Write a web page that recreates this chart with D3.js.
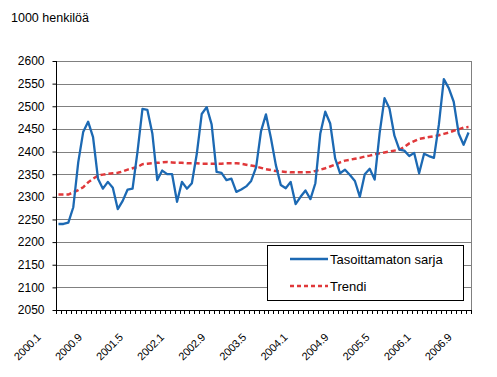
<!DOCTYPE html>
<html>
<head>
<meta charset="utf-8">
<title>Työlliset</title>
<script src="https://d3js.org/d3.v7.min.js"></script>
<style>
    body { margin: 0; background: #fff; }
    svg text { font-family: "Liberation Sans", Arial, sans-serif; fill: #000; }
</style>
</head>
<body>
<div id="chart"></div>
<script>
    // kuukaudet 2000.1 - 2006.12
    var years = [2000, 2001, 2002, 2003, 2004, 2005, 2006];
    var tickLabels = ["2000.1", "2000.9", "2001.5", "2002.1", "2002.9", "2003.5",
                      "2004.1", "2004.9", "2005.5", "2006.1", "2006.9"];
    var yTicks = [2050, 2100, 2150, 2200, 2250, 2300, 2350, 2400, 2450, 2500, 2550, 2600];

    // Tasoittamaton sarja (1000 henkilöä)
    var sarja = [
        2240, 2240, 2243, 2277, 2376, 2443, 2466, 2432, 2340, 2318, 2333, 2320,
        2273, 2291, 2316, 2318, 2400, 2494, 2492, 2440, 2337, 2358, 2350, 2350,
        2289, 2333, 2318, 2330, 2395, 2483, 2498, 2460, 2355, 2353, 2337, 2340,
        2311, 2316, 2323, 2335, 2365, 2445, 2482, 2430, 2370, 2326, 2319, 2333,
        2284, 2300, 2314, 2295, 2330, 2440, 2488, 2462, 2385, 2352, 2360, 2348,
        2335, 2300, 2350, 2362, 2338, 2440, 2518, 2495, 2435, 2404, 2402, 2390,
        2397, 2352, 2395, 2390, 2386, 2460, 2560, 2540, 2510, 2440, 2415, 2442
    ];

    // Trendi
    var trendi = [
        2305, 2305, 2305, 2310, 2315, 2321, 2332, 2340, 2347, 2349, 2351, 2352,
        2353, 2356, 2360, 2363, 2366, 2372, 2373, 2374, 2375, 2376, 2377, 2376,
        2375, 2375, 2374, 2374, 2374, 2373, 2373, 2373, 2373, 2373, 2374, 2374,
        2374, 2373, 2371, 2369, 2367, 2364, 2361, 2359, 2357, 2356, 2355, 2354,
        2354, 2354, 2354, 2355, 2357, 2360, 2363, 2367, 2371, 2376, 2380, 2382,
        2384, 2386, 2389, 2391, 2394, 2396, 2398, 2400, 2402, 2404, 2410, 2418,
        2423, 2428, 2430, 2432, 2434, 2436, 2439, 2442, 2446, 2449, 2453, 2454
    ];

    var months = [];
    years.forEach(function (yr) {
        for (var m = 1; m <= 12; m++) months.push(yr + "." + m);
    });

    var width = 497, height = 377;
    var plotLeft = 56, plotRight = 471, plotTop = 61, plotBottom = 310;

    var svg = d3.select("#chart").append("svg")
        .attr("width", width)
        .attr("height", height);

    var x = d3.scaleBand().domain(months).range([plotLeft, plotRight]);
    var y = d3.scaleLinear().domain([2050, 2600]).range([plotBottom, plotTop]);
    var cx = function (i) { return x(months[i]) + x.bandwidth() / 2; };

    // otsikko
    svg.append("text")
        .attr("x", 11)
        .attr("y", 22)
        .style("font-size", "12.5px")
        .text("1000 henkilöä");

    // vaakaviivat
    svg.append("g")
        .selectAll("line")
        .data(yTicks.slice(1))
        .enter().append("line")
        .attr("x1", plotLeft).attr("x2", plotRight)
        .attr("y1", function (d) { return Math.round(y(d)) + 0.5; })
        .attr("y2", function (d) { return Math.round(y(d)) + 0.5; })
        .attr("stroke", "#808080")
        .attr("stroke-width", 1);

    // oikea reuna
    svg.append("line")
        .attr("x1", plotRight + 0.5).attr("x2", plotRight + 0.5)
        .attr("y1", Math.round(y(2600))).attr("y2", plotBottom)
        .attr("stroke", "#808080");

    // y-akseli
    var yAxis = d3.axisLeft(y)
        .tickValues(yTicks)
        .tickSize(4)
        .tickPadding(8)
        .tickFormat(d3.format("d"));

    var gy = svg.append("g")
        .attr("transform", "translate(" + (plotLeft + 0.5) + ",0)")
        .call(yAxis);
    gy.select(".domain").attr("stroke", "#000").attr("d", "M0," + plotTop + "V" + (plotBottom + 0.5));
    gy.selectAll(".tick line").attr("stroke", "#000");
    gy.selectAll(".tick text")
        .style("font-size", "12px")
        .style("font-family", "\"Liberation Sans\", Arial, sans-serif");

    // x-akseli
    svg.append("line")
        .attr("x1", plotLeft).attr("x2", plotRight + 1)
        .attr("y1", plotBottom + 0.5).attr("y2", plotBottom + 0.5)
        .attr("stroke", "#000");

    var edges = months.map(function (m) { return x(m); }).concat([plotRight]);
    svg.append("g")
        .selectAll("line")
        .data(edges)
        .enter().append("line")
        .attr("x1", function (d) { return Math.round(d) + 0.5; })
        .attr("x2", function (d) { return Math.round(d) + 0.5; })
        .attr("y1", plotBottom).attr("y2", plotBottom + 4)
        .attr("stroke", "#000");

    // kallistetut luokkaotsikot hieman levitettyinä, kuten alkuperäisessä
    var labelX = function (i) { return cx(0) - 17 + (cx(i) - cx(0)) * 1.04; };
    svg.append("g")
        .selectAll("text")
        .data(tickLabels)
        .enter().append("text")
        .attr("text-anchor", "end")
        .style("font-size", "11px")
        .style("letter-spacing", "-0.2px")
        .attr("transform", function (d) {
            var i = months.indexOf(d);
            return "translate(" + labelX(i) + "," + (plotBottom + 28) + ") rotate(-45)";
        })
        .text(function (d) { return d; });

    // viivat
    var line = d3.line()
        .x(function (d, i) { return cx(i); })
        .y(function (d) { return y(d); });

    svg.append("path")
        .datum(trendi)
        .attr("fill", "none")
        .attr("stroke", "#E0383A")
        .attr("stroke-width", 2.5)
        .attr("stroke-dasharray", "5,3")
        .attr("d", line);

    svg.append("path")
        .datum(sarja)
        .attr("fill", "none")
        .attr("stroke", "#1C69B3")
        .attr("stroke-width", 2.3)
        .attr("stroke-linejoin", "round")
        .attr("d", line);

    // selite
    var legend = svg.append("g");
    legend.append("rect")
        .attr("x", 267.5).attr("y", 245.5)
        .attr("width", 196).attr("height", 55)
        .attr("fill", "#fff")
        .attr("stroke", "#000");

    var items = [
        {name: "Tasoittamaton sarja", color: "#1C69B3", dash: null, yy: 259},
        {name: "Trendi", color: "#E0383A", dash: "4,3", yy: 286}
    ];
    items.forEach(function (it) {
        legend.append("line")
            .attr("x1", 290).attr("x2", 328)
            .attr("y1", it.yy).attr("y2", it.yy)
            .attr("stroke", it.color)
            .attr("stroke-width", 2.3)
            .attr("stroke-dasharray", it.dash);
        legend.append("text")
            .attr("x", 330)
            .attr("y", it.yy)
            .attr("dy", "0.35em")
            .style("font-size", "13px")
            .text(it.name);
    });
</script>
</body>
</html>
